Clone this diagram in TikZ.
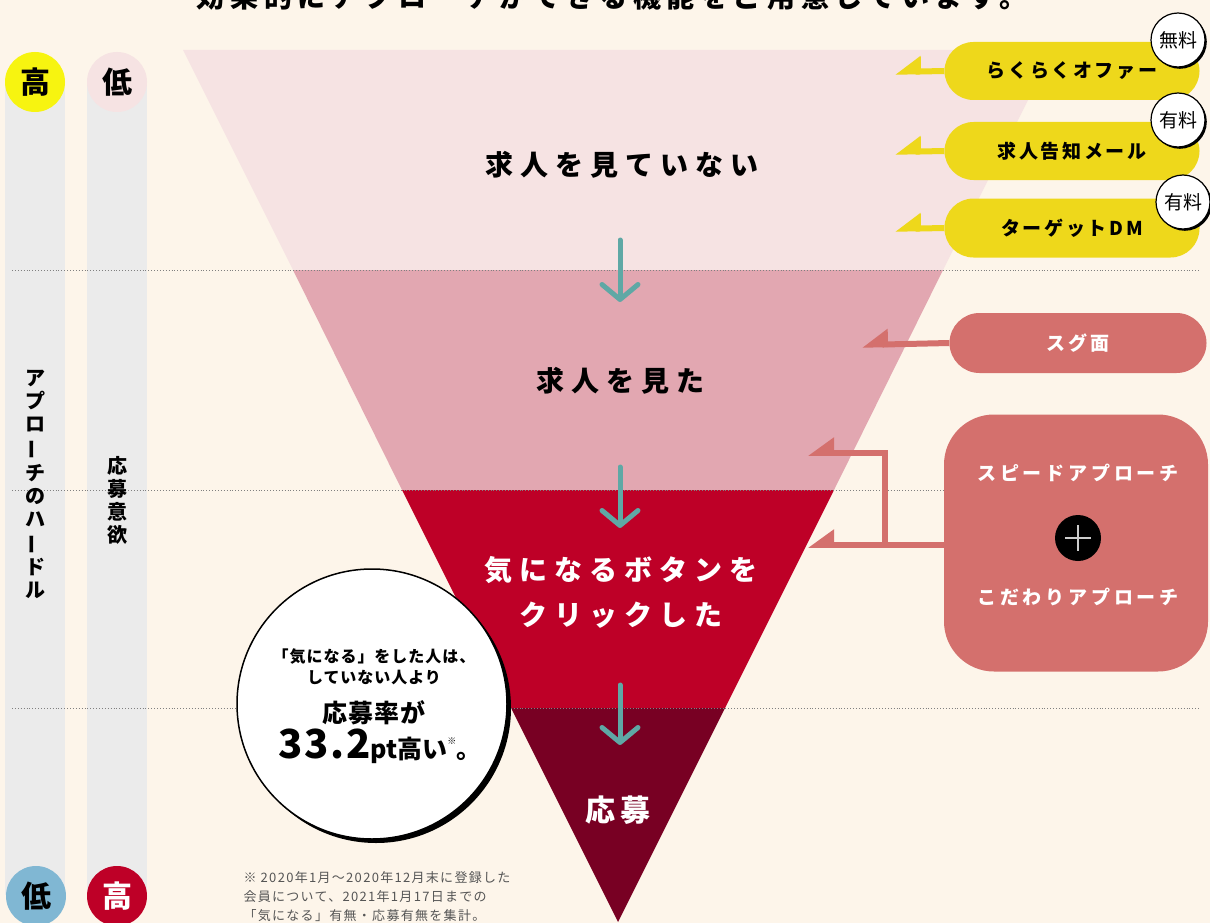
\documentclass[tikz,border=0pt]{standalone}
\usepackage{fontspec}
\setmainfont{Noto Sans CJK JP}
\usetikzlibrary{arrows.meta,shadows}
\definecolor{cream}{HTML}{FDF5EA}
\definecolor{bandA}{HTML}{F6E3E3}
\definecolor{bandB}{HTML}{E2A7B1}
\definecolor{bandC}{HTML}{BE0027}
\definecolor{bandD}{HTML}{780023}
\definecolor{arrowteal}{HTML}{5FA8A5}
\definecolor{pillyellow}{HTML}{EED81B}
\definecolor{pillrose}{HTML}{D4706D}
\definecolor{bargray}{HTML}{EBEBEB}
\definecolor{hiyellow}{HTML}{F7F410}
\definecolor{lowblue}{HTML}{80B7D3}
\definecolor{notegray}{HTML}{555555}
\newcommand{\fs}[1]{\fontsize{#1}{#1}\selectfont}
\newcommand{\lsp}[1]{\addfontfeatures{LetterSpace=#1}}
\newcommand{\vbar}{\rotatebox[origin=c]{90}{ー}}
\tikzset{
	stage/.style={font=\bfseries\fs{28}\lsp{25}, align=center},
	pill/.style={rounded corners=29pt, minimum width=255pt, minimum height=58pt, inner sep=0pt, font=\bfseries\fs{19}\lsp{14}},
	badge/.style={circle, fill=white, draw=black, line width=1.2pt, minimum size=54pt, inner sep=0pt, font=\fs{19}, drop shadow={shadow xshift=1.8pt, shadow yshift=-1.8pt, opacity=1, fill=black}},
	harp/.style={line width=6pt, -{Triangle[harpoon,swap,length=22pt,width=30pt]}},
	flow/.style={draw=arrowteal, line width=5pt, line cap=round, -{Straight Barb[length=15pt,width=36pt,line cap=round,line join=round]}},
	dots/.style={dotted, draw=gray, line width=0.9pt},
	levelball/.style={circle, minimum size=60pt, inner sep=0pt, font=\bfseries\fs{30}},
	vtext/.style={align=center, font=\bfseries\fs{20}, text depth=0pt},
	apptext/.style={text=white, font=\bfseries\fs{19}\lsp{20}},
}
\begin{document}
\begin{tikzpicture}[x=1pt,y=-1pt]
	\useasboundingbox (0,0) rectangle (1210,923);
	\fill[cream] (0,0) rectangle (1210,923);
	\node[font=\bfseries\fs{28}\lsp{20}] (title) at (612,-3) {効果的にアプローチができる機能をご用意しています。};

	\fill[bargray] (5,82) rectangle (65,895);
	\fill[bargray] (87,82) rectangle (147,895);

	\fill[bandA] (183,50) -- (1053,50) -- (943,270) -- (293,270) -- cycle;
	\fill[bandB] (293,270) -- (943,270) -- (834,490) -- (402,490) -- cycle;
	\fill[bandC] (402,490) -- (834,490) -- (725,708) -- (511,708) -- cycle;
	\fill[bandD] (511,708) -- (725,708) -- (618,922) -- cycle;

	\foreach \y in {270,490,708}
		\draw[dots] (12,\y) -- (1200,\y);

	\node[levelball, fill=hiyellow] (hurdleHi) at (35,82) {高};
	\node[levelball, fill=bandA] (wishLo) at (117,82) {低};
	\node[levelball, fill=lowblue] (hurdleLo) at (36,896) {低};
	\node[levelball, fill=bandC, text=white] (wishHi) at (117,896) {高};
	\node[vtext] (hurdle) at (35,484) {ア\\[3pt]プ\\[3pt]ロ\\[3pt]\vbar\\[3pt]チ\\[3pt]の\\[3pt]ハ\\[3pt]\vbar\\[3pt]ド\\[3pt]ル};
	\node[vtext] (wish) at (117,499) {応\\[3pt]募\\[3pt]意\\[3pt]欲};

	\node[stage] (unseen) at (622,165) {求人を見ていない};
	\node[stage] (seen) at (620,381) {求人を見た};
	\node[stage, text=white, font=\bfseries\fontsize{28}{45}\selectfont\lsp{25}] (clicked) at (621,592) {気になるボタンを\\クリックした};
	\node[stage, text=white, font=\bfseries\fs{30}\lsp{15}] (applied) at (618,810) {応募};

	\coordinate (f1a) at (620,240); \coordinate (f1b) at (620,302);
	\coordinate (f2a) at (620,467); \coordinate (f2b) at (620,528);
	\coordinate (f3a) at (620,685); \coordinate (f3b) at (620,745);
	\draw[flow] (f1a) -- (f1b);
	\draw[flow] (f2a) -- (f2b);
	\draw[flow] (f3a) -- (f3b);

	\node[pill, fill=pillyellow] (offer) at (1072,71) {らくらくオファー};
	\node[pill, fill=pillyellow] (mail) at (1072,151) {求人告知メール};
	\node[pill, fill=pillyellow, minimum height=59pt] (dm) at (1072,228) {ターゲットDM};
	\coordinate (offerEnd) at (895,72);
	\coordinate (mailEnd) at (895,152);
	\coordinate (dmEnd) at (895,229);
	\draw[harp, draw=pillyellow] (offer.west) -- (offerEnd);
	\draw[harp, draw=pillyellow] (mail.west) -- (mailEnd);
	\draw[harp, draw=pillyellow] (dm.west) -- (dmEnd);
	\node[badge] (free) at (1178,40) {無料};
	\node[badge] (paidA) at (1178,120) {有料};
	\node[badge] (paidB) at (1183,202) {有料};

	\node[pill, fill=pillrose, text=white, minimum width=257pt, minimum height=60pt, rounded corners=30pt] (sugumen) at (1078,343) {スグ面};
	\coordinate (sugumenEnd) at (862,345);
	\draw[harp, draw=pillrose] (sugumen.west) -- (sugumenEnd);

	\node[fill=pillrose, rounded corners=50pt, minimum width=264pt, minimum height=257pt] (approach) at (1076,543) {};
	\node[apptext] (speed) at (1078,473) {スピードアプローチ};
	\node[circle, fill=black, minimum size=46pt, inner sep=0pt] (plus) at (1078,538) {};
	\draw[gray!40, line width=1.5pt] (plus.center) ++(-13,0) -- ++(26,0);
	\draw[gray!40, line width=1.5pt] (plus.center) ++(0,-13) -- ++(0,26);
	\node[apptext] (kodawari) at (1078,597) {こだわりアプローチ};
	\coordinate (fork) at (885,545);
	\coordinate (tipLow) at (808,545);
	\coordinate (tipUp) at (808,453);
	\draw[harp, draw=pillrose] (fork -| approach.west) -- (tipLow);
	\draw[harp, draw=pillrose] (fork) |- (tipUp);

	\node[circle, fill=white, draw=black, line width=1.5pt, minimum size=270pt, drop shadow={shadow xshift=4pt, shadow yshift=-4pt, opacity=1, fill=black}] (note) at (372,704) {};
	\node[font=\bfseries\fs{16}\lsp{6}] (noteA) at (374,657) {「気になる」をした人は、};
	\node[font=\bfseries\fs{16}\lsp{6}] (noteB) at (374,678) {していない人より};
	\node[font=\bfseries\fs{25}\lsp{4}] (noteC) at (374,713) {応募率が};
	\node[font=\bfseries] (noteD) at (380,746) {{\fs{40}\lsp{4}33.2}{\fs{25}pt高い}\raisebox{14pt}{\fs{9}※}{\fs{25}。}};

	\node[anchor=west, text=notegray, align=left, font=\fontsize{13}{19}\selectfont\lsp{10}] (foot) at (240,897) {※ 2020年1月～2020年12月末に登録した\\会員について、2021年1月17日までの\\「気になる」有無・応募有無を集計。};
\end{tikzpicture}
\end{document}
